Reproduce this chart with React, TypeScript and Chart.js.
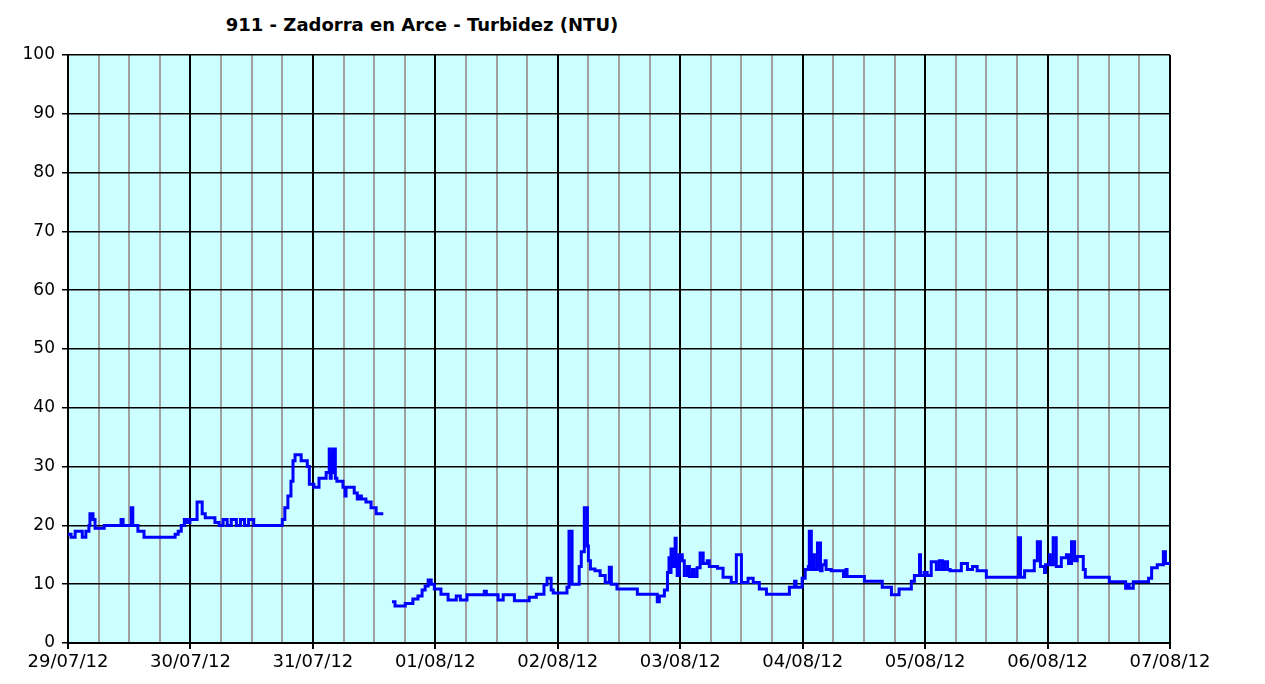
import { useEffect, useRef } from "react";
import { Chart, registerables } from "chart.js";

Chart.register(...registerables);

const chartTitle = "911 - Zadorra en Arce - Turbidez (NTU)";

// tick labels for each day boundary (every 24 h)
const dayLabels = [
  "29/07/12", "30/07/12", "31/07/12", "01/08/12", "02/08/12",
  "03/08/12", "04/08/12", "05/08/12", "06/08/12", "07/08/12",
];

// time in hours since 29/07/12 00:00
const hours = [
  0, 0.6, 1.4, 2.8, 3.5, 4.1, 4.3, 4.9, 5.3, 7.1, 10.4, 10.8, 12.4, 12.7, 13.7, 14.9,
  21.0, 21.6, 22.2, 22.8, 23.3, 23.9, 25.3, 26.3, 26.9, 28.8, 29.6, 30.4, 31.2, 32.0,
  33.0, 33.8, 34.6, 35.4, 36.4, 42.0, 42.5, 43.1, 43.7, 44.1, 44.5, 45.7, 46.9, 47.3,
  48.2, 49.2, 50.6, 51.2, 51.4, 51.6, 51.8, 52.0, 52.4, 52.7, 53.9, 54.3, 54.5, 56.1,
  56.7, 57.1, 57.5, 58.4, 59.4, 60.4, 61.8, 62.6,
  63.5, 64.1, 66.1, 67.6, 68.6, 69.4, 70.0, 70.6, 71.2, 71.8, 73.1, 74.5, 76.1, 76.9,
  78.2, 81.6, 82.0, 84.3, 85.3, 87.5, 90.4, 91.8, 93.3, 93.9, 94.7, 95.1, 97.8, 98.2,
  98.8, 100.2, 100.6, 101.2, 101.8, 102.0, 102.4, 103.3, 104.3, 105.3, 106.1, 106.5,
  107.6, 111.6, 115.5, 115.9, 116.9, 117.5, 117.8, 118.0, 118.2, 118.6, 119.0, 119.2,
  119.4, 119.8, 120.4, 120.8, 121.4, 121.8, 122.4, 122.7, 123.3, 123.9, 124.5, 125.3,
  125.7, 127.3, 128.4, 130.0, 131.0, 132.0, 133.3, 134.3, 135.5, 136.9, 141.4, 142.4,
  142.7, 143.9, 144.5, 145.1, 145.3, 145.7, 146.1, 146.3, 146.9, 147.5, 147.8, 148.4,
  148.6, 149.6, 152.0, 152.5, 152.7, 156.1, 159.6, 161.4, 162.9, 165.3, 165.9, 166.9,
  167.1, 167.8, 168.4, 169.2, 170.2, 170.8, 171.4, 171.8, 172.4, 172.9, 175.1, 176.3,
  177.3, 178.2, 180.0, 186.3, 186.7, 187.5, 189.4, 190.0, 190.6, 191.4, 191.6, 192.4,
  192.5, 193.1, 193.7, 194.7, 195.7, 196.1, 196.7, 197.3, 197.8, 199.0, 199.4, 204.1,
  207.3, 207.6, 208.0, 208.8, 211.8, 212.4, 213.5, 214.7, 215.1, 216.0,
];

// turbidity (NTU); null marks the data gap on 31/07
const turbidity = [
  18.5, 18, 19, 18, 19, 20, 22, 21, 19.5, 20, 21, 20, 23, 20, 19, 18,
  18.5, 19, 20, 21, 20.5, 21, 24, 22, 21.3, 20.5, 20, 21, 20, 21,
  20, 21, 20, 21, 20, 21, 23, 25, 27.5, 31, 32, 31, 30, 27,
  26.5, 28, 29, 33, 28, 32, 29, 33, 28, 27.5, 26.5, 25, 26.5, 25.5,
  24.5, 25, 24.5, 24, 23, 22, 22, null,
  7, 6.3, 6.7, 7.5, 8, 9, 9.7, 10.7, 10, 9.2, 8.3, 7.3, 8, 7.3,
  8.2, 8.8, 8.2, 7.3, 8.2, 7.2, 7.8, 8.3, 9.9, 11, 9, 8.5, 9.5, 19,
  10, 13, 15.5, 23, 16.5, 14, 12.6, 12.3, 11.5, 10.3, 12.9, 10,
  9.2, 8.3, 7.0, 8, 9, 12, 14.5, 12, 16, 13, 17.8, 14,
  11.5, 15, 14, 11.5, 13, 11.3, 12.5, 11.3, 12.8, 15.3, 13.5, 14,
  13, 12.7, 11.2, 10.3, 15, 10.3, 11, 10.3, 9.2, 8.3, 9.5, 10.5,
  9.5, 11, 12.5, 13, 19, 12.5, 15, 12.5, 17, 12.3, 13.3, 14,
  12.5, 12.3, 11.3, 12.5, 11.3, 10.5, 9.5, 8.2, 9.2, 10.5, 11.5, 15,
  11.5, 12, 11.5, 13.8, 12.5, 14, 12.5, 13.8, 12.5, 12.3, 13.5, 12.5,
  13, 12.3, 11.2, 17.9, 11.2, 12.3, 14, 17.2, 13, 12, 13.3, 15,
  13.3, 17.9, 13, 14.5, 15, 13.5, 17.2, 14, 14.7, 12.5, 11.2, 10.4,
  9.3, 10, 9.3, 10.4, 11, 12.8, 13.3, 15.5, 13.5, 13.5,
];

const FONT = '"DejaVu Sans", Verdana, sans-serif';

export default function App() {
  const canvasRef = useRef<HTMLCanvasElement>(null);

  useEffect(() => {
    if (!canvasRef.current) return;
    const plotBackground = {
      id: "plotBackground",
      beforeDraw(chart: any) {
        const { ctx, chartArea } = chart;
        if (!chartArea) return;
        ctx.save();
        ctx.fillStyle = "#CCFFFF";
        ctx.fillRect(chartArea.left, chartArea.top, chartArea.right - chartArea.left, chartArea.bottom - chartArea.top);
        ctx.restore();
      },
    };

    const points = hours.map((h, i) => ({ x: h, y: turbidity[i] }));

    const chart = new Chart(canvasRef.current, {
      type: "line",
      data: {
        datasets: [
          {
            data: points as any,
            borderColor: "#0000FF",
            borderWidth: 3,
            pointRadius: 0,
            stepped: "before",
            spanGaps: false,
            fill: false,
          },
        ],
      },
      options: {
        animation: false,
        responsive: false,
        maintainAspectRatio: false,
        layout: { padding: { top: 55, right: 95, left: 0, bottom: 0 } },
        plugins: {
          legend: { display: false },
          tooltip: { enabled: false },
          title: { display: false },
        },
        scales: {
          x: {
            type: "linear",
            min: 0,
            max: 216,
            afterFit(scale: any) {
              scale.height = 41;
            },
            border: { color: "#000000", width: 2 },
            grid: {
              color: (ctx: any) => (ctx.tick && ctx.tick.value % 24 === 0 ? "#000000" : "#A0A0A0"),
              tickColor: (ctx: any) => (ctx.tick && ctx.tick.value % 24 === 0 ? "#000000" : "rgba(0,0,0,0)"),
              lineWidth: 2,
              tickLength: 6,
            },
            ticks: {
              stepSize: 6,
              autoSkip: false,
              maxRotation: 0,
              minRotation: 0,
              color: "#000000",
              padding: 3,
              font: { family: FONT, size: 18 },
              callback: (v: any) => (Number(v) % 24 === 0 ? dayLabels[Number(v) / 24] : ""),
            },
          },
          y: {
            type: "linear",
            min: 0,
            max: 100,
            afterFit(scale: any) {
              scale.width = 68;
            },
            border: { color: "#000000", width: 2 },
            grid: { color: "#000000", lineWidth: 1.5, tickLength: 6 },
            ticks: {
              stepSize: 10,
              color: "#000000",
              padding: 7,
              font: { family: FONT, size: 17 },
            },
          },
        },
      },
      plugins: [plotBackground],
    });
    return () => chart.destroy();
  }, []);

  return (
    <div style={{ position: "fixed", left: 0, top: 0, width: 1265, height: 684, background: "#FFFFFF" }}>
      <div
        style={{
          position: "absolute",
          left: 0,
          top: 14,
          width: 844,
          textAlign: "center",
          fontFamily: FONT,
          fontWeight: "bold",
          fontSize: 18,
          lineHeight: "22px",
          color: "#000000",
        }}
      >
        {chartTitle}
      </div>
      <canvas ref={canvasRef} width={1265} height={684} style={{ position: "absolute", left: 0, top: 0 }} />
    </div>
  );
}
